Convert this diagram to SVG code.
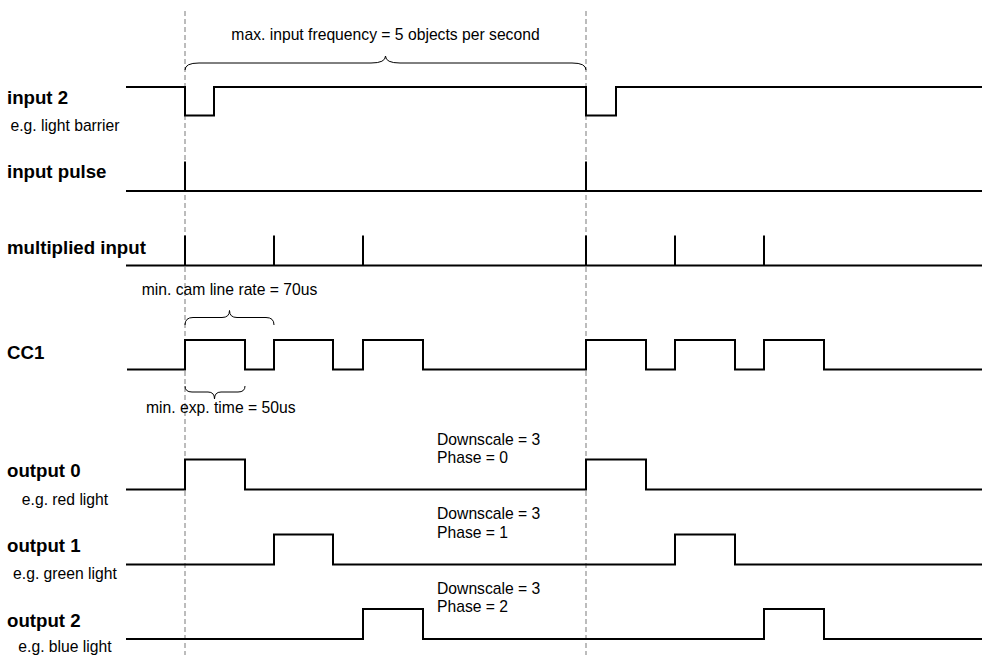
<svg xmlns="http://www.w3.org/2000/svg" width="982" height="655" viewBox="0 0 982 655">
<style>
  .wave { fill: none; stroke: #000; stroke-width: 2; stroke-linejoin: miter; stroke-linecap: butt; }
  .guide { fill: none; stroke: #a6a6a6; stroke-width: 1.5; stroke-dasharray: 5 3; }
  .brace { fill: none; stroke: #000; stroke-width: 1; }
  .lbl { font-family: "Liberation Sans", Arial, sans-serif; font-weight: bold; font-size: 18.67px; fill: #000; }
  .sub { font-family: "Liberation Sans", Arial, sans-serif; font-size: 15.7px; fill: #000; text-anchor: middle; }
  .note { font-family: "Liberation Sans", Arial, sans-serif; font-size: 15.7px; fill: #000; }
</style>
<rect x="0" y="0" width="982" height="655" fill="#fff"/>

<g id="connectors">
  <path class="guide" d="M185,11 V655"/>
  <path class="guide" d="M586,11 V655"/>
</g>

<g id="input2">
  <text class="lbl" x="7" y="103.5">input 2</text>
  <text class="sub" x="65" y="130.5">e.g. light barrier</text>
  <path class="wave" d="M126,87 H185 V115.5 H214 V87 H586 V115.5 H616 V87 H982"/>
</g>

<g id="input-pulse">
  <text class="lbl" x="7" y="177.5">input pulse</text>
  <path class="wave" d="M126,191 H982 M185,161.5 V191 M586,161.5 V191"/>
</g>

<g id="multiplied-input">
  <text class="lbl" x="7" y="254">multiplied input</text>
  <path class="wave" d="M126,265.5 H982 M185,235.5 V265.5 M274,235.5 V265.5 M363,235.5 V265.5 M586,235.5 V265.5 M675,235.5 V265.5 M764,235.5 V265.5"/>
</g>

<g id="cc1">
  <text class="lbl" x="7" y="359">CC1</text>
  <path class="wave" d="M127,369.5 H185 V340 H245 V369.5 H274 V340 H333 V369.5 H363 V340 H423 V369.5 H586 V340 H646 V369.5 H675 V340 H735 V369.5 H764 V340 H824 V369.5 H982"/>
</g>

<g id="output0">
  <text class="lbl" x="7" y="477">output 0</text>
  <text class="sub" x="65" y="504.5">e.g. red light</text>
  <path class="wave" d="M126,489.5 H185 V459.5 H245 V489.5 H586 V459.5 H646 V489.5 H982"/>
  <text class="note" x="437" y="445">Downscale = 3</text>
  <text class="note" x="437" y="463">Phase = 0</text>
</g>

<g id="output1">
  <text class="lbl" x="7" y="552">output 1</text>
  <text class="sub" x="65" y="578.5">e.g. green light</text>
  <path class="wave" d="M126,564.5 H274 V534.5 H333 V564.5 H675 V534.5 H735 V564.5 H982"/>
  <text class="note" x="437" y="519">Downscale = 3</text>
  <text class="note" x="437" y="537.5">Phase = 1</text>
</g>

<g id="output2">
  <text class="lbl" x="7" y="627">output 2</text>
  <text class="sub" x="65" y="652">e.g. blue light</text>
  <path class="wave" d="M126,639 H363 V609 H423 V639 H764 V609 H824 V639 H982"/>
  <text class="note" x="437" y="593.5">Downscale = 3</text>
  <text class="note" x="437" y="612">Phase = 2</text>
</g>

<g id="annotation-frequency">
  <text class="note" x="385.5" y="40" text-anchor="middle">max. input frequency = 5 objects per second</text>
  <path class="brace" d="M185,70 Q185,63 199,63 L371,63 Q385.5,63 385.5,56 Q385.5,63 400,63 L572,63 Q586,63 586,70"/>
</g>

<g id="annotation-linerate">
  <text class="note" x="229.5" y="294.5" text-anchor="middle">min. cam line rate = 70us</text>
  <path class="brace" d="M185,325 Q185,317.5 193,317.5 L222,317.5 Q229.5,317.5 229.5,310.5 Q229.5,317.5 237,317.5 L266,317.5 Q274,317.5 274,325"/>
</g>

<g id="annotation-exposure">
  <text class="note" x="146" y="413">min. exp. time = 50us</text>
  <path class="brace" d="M185,386 Q185,392 192,392 L208,392 Q214.5,392 214.5,399 Q214.5,392 221,392 L238,392 Q245,392 245,386"/>
</g>
</svg>
